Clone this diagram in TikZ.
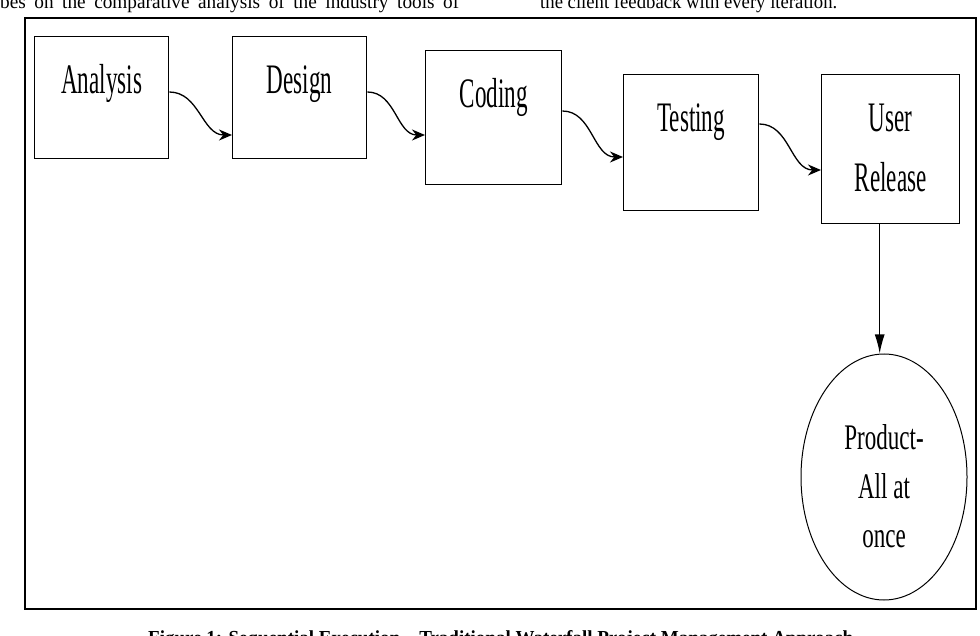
\documentclass[tikz,border=0pt]{standalone}
\usepackage{fontspec}
\setmainfont{Liberation Serif}
\usepackage{graphicx}
\usetikzlibrary{arrows.meta,shapes.geometric}

\newcommand{\narrow}[2][0.55]{\scalebox{#1}[1]{#2}}

\begin{document}
\begin{tikzpicture}[x=1pt, y=-1pt,
  stage/.style={draw, line width=1.4pt, anchor=north west, align=center,
    inner xsep=0pt, inner ysep=29pt, text height=28pt,
    font=\fontsize{42}{60}\selectfont},
  flow/.style={-{Stealth[length=13pt,width=11pt]}, line width=1.3pt},
  paper/.style={inner sep=0pt, font=\fontsize{21}{25}\selectfont}]
  \clip (0,0) rectangle (980,636);

  % text of the page around the figure
  \node[paper, anchor=base west] (lefttext) at (0,9)
    {\resizebox{459pt}{14pt}{\makebox[500pt][s]{bes on the comparative analysis of the industry tools of}}};
  \node[paper, anchor=base west] (righttext) at (540,9)
    {\resizebox{297pt}{14pt}{the client feedback with every iteration.}};
  \node[paper, anchor=north west] (caption) at (148,630)
    {\resizebox{705pt}{14pt}{\bfseries Figure 1: Sequential Execution -- Traditional Waterfall Project Management Approach}};

  \draw[line width=1.8pt] (25,18) rectangle (976,609);

  % stages
  \node[stage, minimum width=134pt, text depth=36pt] (analysis) at (34,36)  {\narrow{Analysis}};
  \node[stage, minimum width=134pt, text depth=36pt] (design)   at (232,36) {\narrow{Design}};
  \node[stage, minimum width=136pt, text depth=48pt] (coding)   at (425,50) {\narrow{Coding}};
  \node[stage, minimum width=135pt, text depth=50pt] (testing)  at (623,74) {\narrow{Testing}};
  \node[stage, minimum width=138pt, text height=88pt, text depth=3pt] (release) at (821,74)
    {\narrow{User}\\\narrow{Release}};

  \node[draw, ellipse, line width=1pt, inner sep=0pt, minimum width=166pt, minimum height=246pt,
        align=center, text height=140pt, text depth=0pt, font=\fontsize{36}{49}\selectfont]
    (product) at (884,477) {\narrow[0.64]{Product-}\\\narrow[0.64]{All at}\\\narrow[0.64]{once}};

  % connectors
  \draw[flow] ([yshift=-56pt]analysis.north east) to[out=0, in=180] ([yshift=-99pt]design.north west);
  \draw[flow] ([yshift=-56pt]design.north east)   to[out=0, in=180] ([yshift=-85pt]coding.north west);
  \draw[flow] ([yshift=-61pt]coding.north east)   to[out=0, in=180] ([yshift=-83pt]testing.north west);
  \draw[flow] ([yshift=-50pt]testing.north east)  to[out=0, in=180] ([yshift=-96pt]release.north west);
  \draw[-{Latex[length=19pt,width=10pt]}, line width=1.2pt]
    ([xshift=-11pt]release.south) -- ([xshift=-11pt]release.south |- product.north);
\end{tikzpicture}
\end{document}
